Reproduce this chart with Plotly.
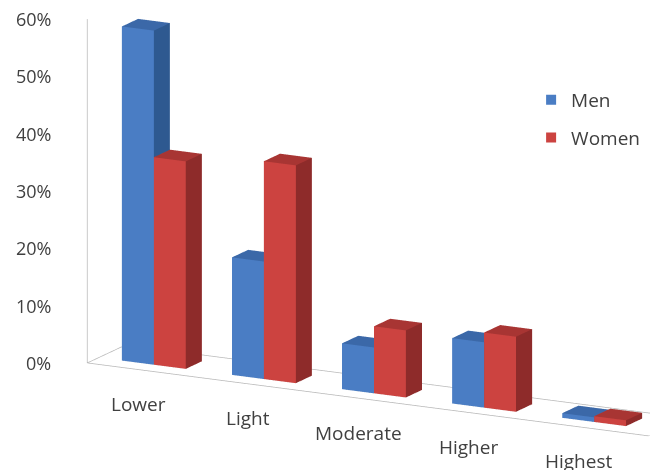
import plotly.graph_objects as go

categories = ["Lower", "Light", "Moderate", "Higher", "Highest"]
men = [0.583, 0.205, 0.08, 0.114, 0.008]
women = [0.362, 0.38, 0.117, 0.131, 0.01]
z_tickvals = [0, 0.1, 0.2, 0.3, 0.4, 0.5, 0.6]
z_ticktext = ["0%", "10%", "20%", "30%", "40%", "50%", "60%"]

BAR_W = 0.29
Y0, Y1 = 0.30, 0.72
X_RANGE = [-0.5, 4.6]
Y_RANGE = [0, 1]
Z_RANGE = [0, 0.6]

BLUE = {"front": "#4a7dc4", "side": "#2e5990", "top": "#3b68a8"}
RED = {"front": "#cc4340", "side": "#8e2b2a", "top": "#a83533"}
TEXT = "#404040"
FONT = "Open Sans"


def box_mesh(values, offset, cols, name):
    xs, ys, zs, I, J, K, fc = [], [], [], [], [], [], []
    for i, v in enumerate(values):
        x0 = i + offset - BAR_W / 2
        x1 = x0 + BAR_W
        b = len(xs)
        pts = [(x0, Y0, 0), (x1, Y0, 0), (x1, Y1, 0), (x0, Y1, 0),
               (x0, Y0, v), (x1, Y0, v), (x1, Y1, v), (x0, Y1, v)]
        for p in pts:
            xs.append(p[0]); ys.append(p[1]); zs.append(p[2])
        faces = [
            ((0, 1, 5), "front"), ((0, 5, 4), "front"),
            ((1, 2, 6), "side"), ((1, 6, 5), "side"),
            ((4, 5, 6), "top"), ((4, 6, 7), "top"),
            ((3, 2, 6), "side"), ((3, 6, 7), "side"),
            ((0, 3, 7), "front"), ((0, 7, 4), "front"),
            ((0, 1, 2), "side"), ((0, 2, 3), "side"),
        ]
        for (a, bb, c), kind in faces:
            I.append(b + a); J.append(b + bb); K.append(b + c)
            fc.append(cols[kind])
    return go.Mesh3d(x=xs, y=ys, z=zs, i=I, j=J, k=K, facecolor=fc,
                     flatshading=True, name=name, showlegend=False,
                     hoverinfo="skip",
                     lighting=dict(ambient=1, diffuse=0, specular=0,
                                   roughness=1, fresnel=0))


fig = go.Figure()
fig.add_trace(box_mesh(men, -BAR_W / 2, BLUE, "Men"))
fig.add_trace(box_mesh(women, BAR_W / 2, RED, "Women"))

# floor outline and vertical axis line at the front-left corner
fx = [X_RANGE[0], X_RANGE[1], X_RANGE[1], X_RANGE[0], X_RANGE[0], None, X_RANGE[0], X_RANGE[0]]
fy = [Y_RANGE[0], Y_RANGE[0], Y_RANGE[1], Y_RANGE[1], Y_RANGE[0], None, Y_RANGE[0], Y_RANGE[0]]
fz = [0, 0, 0, 0, 0, None, Z_RANGE[0], Z_RANGE[1]]
fig.add_trace(go.Scatter3d(x=fx, y=fy, z=fz,
                           mode="lines", line=dict(color="#b8b8b8", width=1.5),
                           showlegend=False, hoverinfo="skip"))

# legend entries
fig.add_trace(go.Scatter(x=[None], y=[None], mode="markers", name="Men",
                         legendgroup="m",
                         marker=dict(symbol="square", size=10, color="#4a7dc4")))
fig.add_trace(go.Scatter(x=[None], y=[None], mode="markers", name="Women",
                         legendgroup="w",
                         marker=dict(symbol="square", size=10, color="#cc4340")))

# axis labels as scene annotations (screen-aligned text)
annotations = []
for i, c in enumerate(categories):
    annotations.append(dict(x=i, y=Y_RANGE[0], z=0, text=c, showarrow=False,
                            xanchor="center", yanchor="middle", xshift=-4, yshift=-34,
                            font=dict(family=FONT, size=19, color=TEXT)))
for v, t in zip(z_tickvals, z_ticktext):
    annotations.append(dict(x=X_RANGE[0], y=Y_RANGE[0], z=v, text=t, showarrow=False,
                            xanchor="right", yanchor="middle", xshift=-34, yshift=0,
                            font=dict(family=FONT, size=18, color=TEXT)))

D = 2.2
cen = dict(x=-0.177, y=-0.122, z=-0.101)
eye = dict(x=cen["x"] + 0.452 * D, y=cen["y"] - 0.858 * D, z=cen["z"] + 0.247 * D)

axis_common = dict(showgrid=False, showbackground=False, zeroline=False,
                   showline=False, showspikes=False, title=dict(text=""),
                   showticklabels=False, ticks="")
fig.update_layout(
    width=658, height=470,
    paper_bgcolor="white", plot_bgcolor="rgba(0,0,0,0)",
    margin=dict(l=0, r=0, t=0, b=0),
    xaxis=dict(visible=False), yaxis=dict(visible=False),
    font=dict(family=FONT, color=TEXT),
    scene=dict(
        domain=dict(x=[0, 1], y=[0, 1]),
        xaxis=dict(axis_common, range=X_RANGE),
        yaxis=dict(axis_common, range=Y_RANGE),
        zaxis=dict(axis_common, range=Z_RANGE),
        aspectmode="manual",
        aspectratio=dict(x=2.70, y=0.35, z=1.51),
        camera=dict(eye=eye, center=cen, up=dict(x=0, y=0, z=1),
                    projection=dict(type="orthographic")),
        annotations=annotations,
    ),
    legend=dict(x=0.795, y=0.845, xanchor="left", yanchor="top",
                traceorder="grouped", tracegroupgap=10,
                font=dict(size=19, color=TEXT), bgcolor="rgba(0,0,0,0)"),
)

fig.write_html("out.html")
